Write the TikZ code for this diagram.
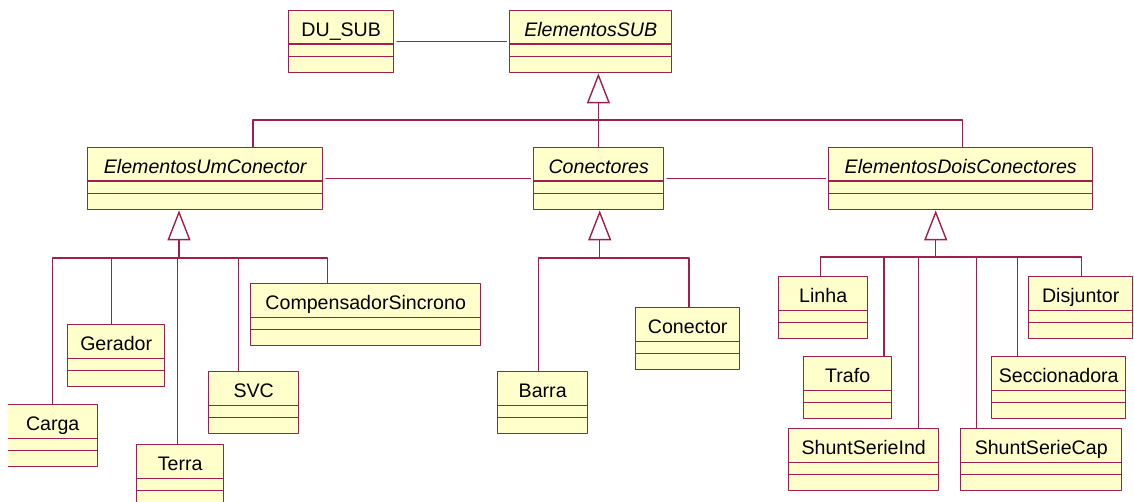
\documentclass[tikz,border=0pt]{standalone}
\usepackage{fontspec}
\setmainfont{Liberation Sans}
\usetikzlibrary{arrows.meta}
\definecolor{aqrevq}{rgb}{0.63,0.12,0.31}
\definecolor{ffffcc}{rgb}{1,1,0.8}
\begin{document}
\begin{tikzpicture}[line cap=round,line join=round,x=0.5pt,y=-0.5pt,
  cls/.style={draw=aqrevq,fill=ffffcc,line width=0.7pt,anchor=north west,inner xsep=0pt,inner ysep=0pt,
    text height=12.75pt,text depth=18.25pt,minimum width=#1*0.5pt,font=\fontsize{9.8}{12}\selectfont,
    path picture={
      \draw[aqrevq,line width=0.7pt] ([yshift=-16.75pt]path picture bounding box.north west) -- ([yshift=-16.75pt]path picture bounding box.north east);
      \draw[aqrevq,line width=0.7pt] ([yshift=-23pt]path picture bounding box.north west) -- ([yshift=-23pt]path picture bounding box.north east);}},
  abs/.style={cls=#1,font=\fontsize{9.8}{12}\selectfont\itshape},
  link/.style={draw=aqrevq,line width=0.7pt},
  gen/.style={link,-{Triangle[open,length=15pt,width=11.5pt]}}]
\useasboundingbox (0,0) rectangle (1134,502);
\clip (8,0) rectangle (1134,502);
% classes
\node[cls=105] (dusub) at (288,10) {DU\_SUB};
\node[abs=162] (elemsub) at (509,10) {ElementosSUB};
\node[abs=235] (umcon) at (87,147) {ElementosUmConector};
\node[abs=130] (conectores) at (533,147) {Conectores};
\node[abs=264] (doiscon) at (828,147) {ElementosDoisConectores};
\node[cls=230] (compsinc) at (250,283) {CompensadorSincrono};
\node[cls=97] (gerador) at (67,324) {Gerador};
\node[cls=90] (svc) at (208,371) {SVC};
\node[cls=90] (carga) at (7,404) {Carga};
\node[cls=87] (terra) at (136,444) {Terra};
\node[cls=90] (barra) at (497,371) {Barra};
\node[cls=104] (conector) at (635,307) {Conector};
\node[cls=89] (linha) at (778,276) {Linha};
\node[cls=104] (disjuntor) at (1028,276) {Disjuntor};
\node[cls=88] (trafo) at (803,356) {Trafo};
\node[cls=134] (seccionadora) at (991,356) {Seccionadora};
\node[cls=150] (shuntind) at (788,428) {ShuntSerieInd};
\node[cls=161] (shuntcap) at (960,428) {ShuntSerieCap};
% associations
\draw[link,shorten <=1.3pt,shorten >=1.3pt] (dusub) -- (elemsub);
\draw[link,shorten <=1.3pt,shorten >=1.3pt] (umcon) -- (conectores);
\draw[link,shorten <=1.3pt,shorten >=1.3pt] (conectores) -- (doiscon);
% generalizations
\coordinate (g1) at ([shift={(7.7,46.5)}]elemsub.south);
\coordinate (g2) at ([shift={(-26.2,47.7)}]umcon.south);
\coordinate (g3) at ([shift={(1,47.7)}]conectores.south);
\coordinate (g4) at ([shift={(-25,46.7)}]doiscon.south);
\draw[gen] (g1) -- (g1 |- elemsub.south);
\draw[gen] (g2) -- (g2 |- umcon.south);
\draw[gen] (g3) -- (g3 |- conectores.south);
\draw[gen] (g4) -- (g4 |- doiscon.south);
\foreach \c/\dx in {umcon/47.8,conectores/0,doiscon/1.7}
\draw[link] ([shift={(\dx,0)}]\c.north) |- (g1);
\foreach \c/\dx in {carga/0,gerador/-4.8,terra/-2.8,svc/-15,compsinc/-38.3}
\draw[link] ([shift={(\dx,0)}]\c.north) |- (g2);
\foreach \c/\dx in {barra/-4.3,conector/1.3}
\draw[link] ([shift={(\dx,0)}]\c.north) |- (g3);
\foreach \c/\dx in {linha/-2.5,trafo/36.3,shuntind/54.7,shuntcap/-64.8,seccionadora/-41.3,disjuntor/1}
\draw[link] ([shift={(\dx,0)}]\c.north) |- (g4);
\end{tikzpicture}
\end{document}
